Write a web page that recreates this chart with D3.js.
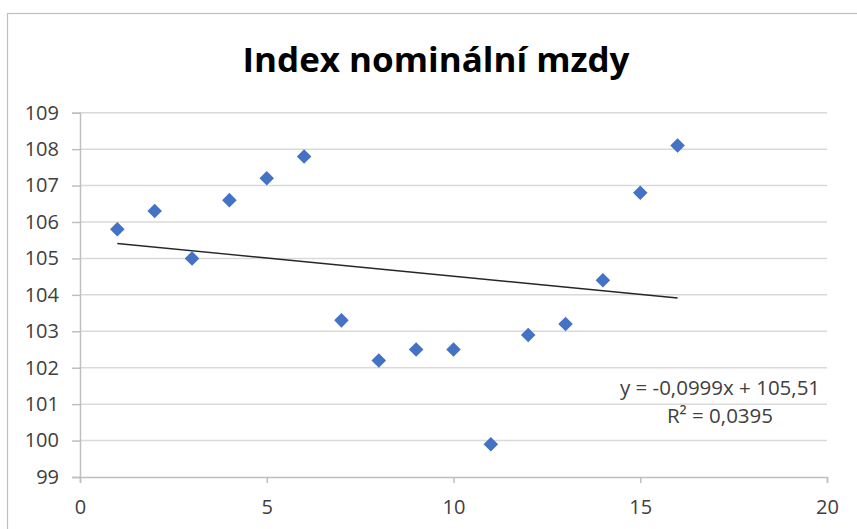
<!DOCTYPE html>
<html><head><meta charset="utf-8">
<script src="https://cdn.jsdelivr.net/npm/d3@7"></script>
<style>body{margin:0;background:#fff}</style>
</head><body>
<svg id="c" width="857" height="529"></svg>
<script>
const title = "Index nominální mzdy";
const xValues = [1,2,3,4,5,6,7,8,9,10,11,12,13,14,15,16];
const yValues = [105.8,106.3,105.0,106.6,107.2,107.8,103.3,102.2,102.5,102.5,99.9,102.9,103.2,104.4,106.8,108.1];
const xTicks = [0,5,10,15,20];
const yTicks = [99,100,101,102,103,104,105,106,107,108,109];
const trendCoef = [-0.0999, 105.51];
const trendLabels = ["y = -0,0999x + 105,51", "R² = 0,0395"];

const svg = d3.select("#c");
const x = d3.scaleLinear().domain([0,20]).range([80,827]);
const y = d3.scaleLinear().domain([99,109]).range([477,112.7]);
const font = "'Open Sans', sans-serif";

svg.append("rect").attr("x",7.5).attr("y",13.5).attr("width",870).attr("height",540)
  .attr("fill","#fff").attr("stroke","#bfbfbf").attr("stroke-width",1.2);

svg.append("text").attr("x",436).attr("y",72).attr("text-anchor","middle")
  .attr("font-family",font).attr("font-weight","bold").attr("font-size",34)
  .attr("textLength",387).attr("lengthAdjust","spacingAndGlyphs")
  .attr("fill","#000").text(title);

// gridlines
svg.append("g").selectAll("line").data(yTicks.filter(d=>d>99)).join("line")
  .attr("x1",x(0)).attr("x2",x(20)).attr("y1",d=>y(d)).attr("y2",d=>y(d))
  .attr("stroke","#d9d9d9").attr("stroke-width",1.5);

// y axis
const ya = svg.append("g").attr("transform",`translate(${x(0)},0)`)
  .call(d3.axisLeft(y).tickValues(yTicks).tickSize(8).tickPadding(13).tickFormat(d3.format("d")));
ya.select(".domain").attr("stroke","#bfbfbf").attr("stroke-width",1.5);
ya.selectAll(".tick line").attr("stroke","#bfbfbf").attr("stroke-width",1.5);
ya.selectAll("text").attr("font-family",font).attr("font-size",20).attr("fill","#404040");

// x axis
const xa = svg.append("g").attr("transform",`translate(0,${y(99)})`)
  .call(d3.axisBottom(x).tickValues(xTicks).tickSize(6).tickPadding(17).tickFormat(d3.format("d")));
xa.select(".domain").attr("stroke","#bfbfbf").attr("stroke-width",1.5);
xa.selectAll(".tick line").attr("stroke","#bfbfbf").attr("stroke-width",1.5);
xa.selectAll("text").attr("font-family",font).attr("font-size",20).attr("fill","#404040");

// trendline
const x0 = d3.min(xValues), x1 = d3.max(xValues);
svg.append("line")
  .attr("x1",x(x0)).attr("y1",y(trendCoef[0]*x0+trendCoef[1]))
  .attr("x2",x(x1)).attr("y2",y(trendCoef[0]*x1+trendCoef[1]))
  .attr("stroke","#262626").attr("stroke-width",1.4);

// markers
const diamond = d3.symbol().type(d3.symbolDiamond2).size(135);
svg.append("g").selectAll("path").data(xValues.map((d,i)=>[d,yValues[i]])).join("path")
  .attr("d",diamond)
  .attr("transform",d=>`translate(${x(d[0])},${y(d[1])})`)
  .attr("fill","#4472c4");

// trend label
svg.append("g").selectAll("text").data(trendLabels).join("text")
  .attr("x",720).attr("y",(d,i)=>395+i*28).attr("text-anchor","middle")
  .attr("font-family",font).attr("font-size",20.5).attr("fill","#404040").text(d=>d);
</script>
</body></html>
